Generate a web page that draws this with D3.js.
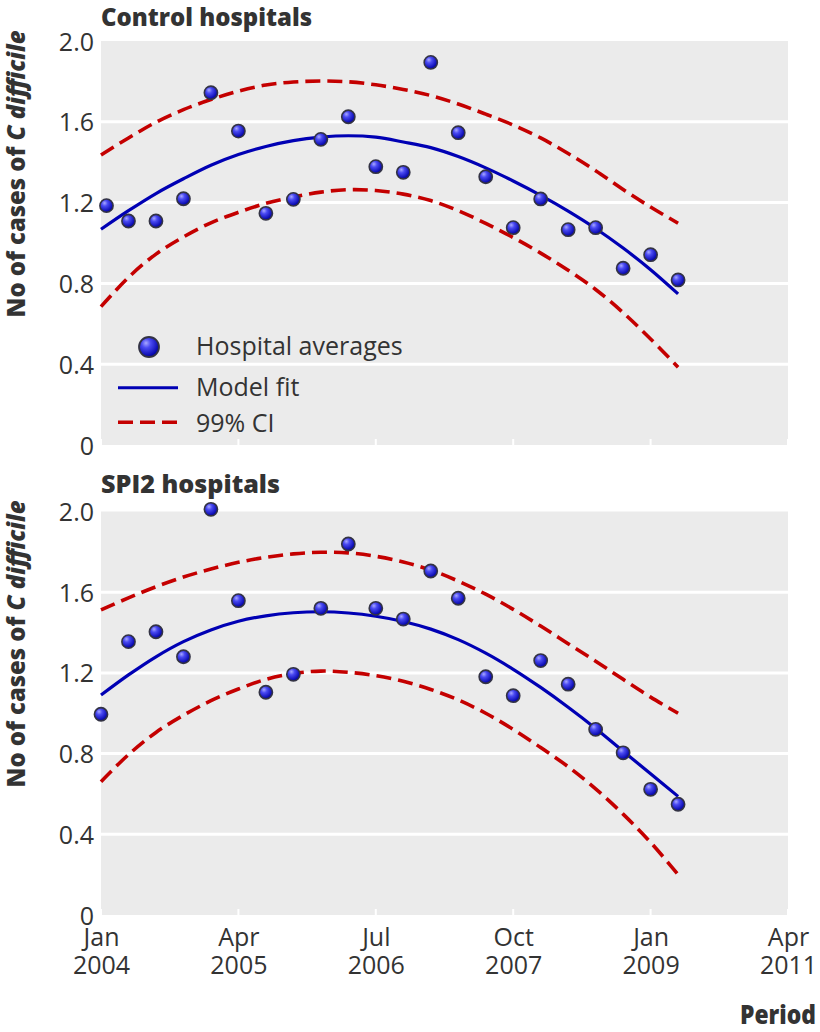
<!DOCTYPE html>
<html>
<head>
<meta charset="utf-8">
<script src="https://cdn.jsdelivr.net/npm/d3@7"></script>
<style>
  body { margin: 0; background: #fff; }
  svg { display: block; }
  text { font-family: "Open Sans", "Noto Sans", sans-serif; fill: #333; }
</style>
</head>
<body>
<svg id="chart" width="820" height="1032"></svg>
<script>
// ---------- data ----------
const xTickValues = [0, 5, 10, 15, 20, 25];
const xTickMonths = ["Jan", "Apr", "Jul", "Oct", "Jan", "Apr"];
const xTickYears  = ["2004", "2005", "2006", "2007", "2009", "2011"];
const yTickValues = [0, 0.4, 0.8, 1.2, 1.6, 2.0];

const quarterIndex = [0,1,2,3,4,5,6,7,8,9,10,11,12,13,14,15,16,17,18,19,20,21];

const controlPointIndex = [0.2,1,2,3,4,5,6,7,8,9,10,11,12,13,14,15,16,17,18,19,20,21];
const controlAverages = [1.185,1.109,1.109,1.219,1.744,1.554,1.147,1.216,1.513,1.625,1.378,1.350,
                         1.894,1.546,1.328,1.076,1.218,1.066,1.076,0.875,0.942,0.817];
const controlFit   = [1.068,1.160,1.245,1.318,1.385,1.438,1.478,1.507,1.524,1.531,1.524,1.500,
                      1.472,1.428,1.372,1.307,1.236,1.158,1.072,0.975,0.868,0.748];
const controlUpper = [1.436,1.520,1.598,1.660,1.710,1.752,1.782,1.797,1.802,1.798,1.783,1.760,
                      1.730,1.688,1.638,1.584,1.520,1.443,1.358,1.265,1.178,1.098];
const controlLower = [0.685,0.830,0.945,1.030,1.100,1.152,1.196,1.228,1.252,1.264,1.260,1.242,
                      1.210,1.160,1.097,1.027,0.950,0.865,0.770,0.655,0.525,0.385];

const spi2PointIndex = [0,1,2,3,4,5,6,7,8,9,10,11,12,13,14,15,16,17,18,19,20,21];
const spi2Averages = [0.995,1.355,1.404,1.280,2.011,1.558,1.104,1.193,1.520,1.839,1.520,1.467,
                      1.705,1.570,1.181,1.087,1.261,1.144,0.920,0.804,0.623,0.549];
const spi2Fit   = [1.090,1.190,1.280,1.355,1.413,1.456,1.483,1.498,1.503,1.497,1.481,1.455,
                   1.417,1.365,1.298,1.218,1.128,1.030,0.925,0.812,0.700,0.588];
const spi2Upper = [1.512,1.572,1.627,1.675,1.715,1.748,1.773,1.790,1.798,1.795,1.778,1.750,
                   1.710,1.655,1.590,1.515,1.432,1.345,1.258,1.168,1.080,1.000];
const spi2Lower = [0.661,0.795,0.905,0.990,1.062,1.120,1.168,1.197,1.209,1.203,1.186,1.158,
                   1.118,1.066,1.000,0.920,0.830,0.735,0.625,0.500,0.360,0.200];

const legendLabels = ["Hospital averages", "Model fit", "99% CI"];

// ---------- layout ----------
const svg = d3.select("#chart");
const xLeft = 101, xRight = 788;
const x = d3.scaleLinear().domain([0, 25]).range([xLeft, xRight]);

const BLUE = "#0000b4", RED = "#c40000", BG = "#ebebeb";

// gradient for points
const defs = svg.append("defs");
const grad = defs.append("radialGradient").attr("id", "ball")
  .attr("cx", "38%").attr("cy", "35%").attr("r", "65%").attr("fx", "35%").attr("fy", "30%");
grad.append("stop").attr("offset", "0%").attr("stop-color", "#a8a8ff");
grad.append("stop").attr("offset", "35%").attr("stop-color", "#4a4af2");
grad.append("stop").attr("offset", "100%").attr("stop-color", "#0000a6");

const panels = [
  { title: "Control hospitals", titleLen: 211, titleY: 26, y0: 445, y1: 41,
    pIdx: controlPointIndex, avg: controlAverages, fit: controlFit, up: controlUpper, lo: controlLower,
    ylabCenter: 174, legend: true, xlabels: false },
  { title: "SPI2 hospitals", titleLen: 179, titleY: 493, y0: 915, y1: 511.5,
    pIdx: spi2PointIndex, avg: spi2Averages, fit: spi2Fit, up: spi2Upper, lo: spi2Lower,
    ylabCenter: 644, legend: false, xlabels: true }
];

panels.forEach(p => {
  const y = d3.scaleLinear().domain([0, 2]).range([p.y0, p.y1]);
  const g = svg.append("g");

  // background
  g.append("rect").attr("x", xLeft).attr("y", p.y1)
    .attr("width", xRight - xLeft).attr("height", p.y0 - p.y1).attr("fill", BG);

  // horizontal gridlines
  g.selectAll(".grid").data(yTickValues.filter(v => v > 0 && v < 2)).join("line")
    .attr("x1", xLeft).attr("x2", xRight)
    .attr("y1", d => y(d)).attr("y2", d => y(d))
    .attr("stroke", "#fff").attr("stroke-width", 3);

  // small white x ticks inside the panel
  g.selectAll(".xt").data(xTickValues).join("line")
    .attr("x1", d => x(d)).attr("x2", d => x(d))
    .attr("y1", p.y0 - 6).attr("y2", p.y0)
    .attr("stroke", "#fff").attr("stroke-width", 2);

  // y axis
  const yAxis = d3.axisLeft(y).tickValues(yTickValues).tickSize(0).tickPadding(7)
    .tickFormat(d => d === 0 ? "0" : d3.format(".1f")(d));
  const ya = g.append("g").attr("transform", `translate(${xLeft},0)`).call(yAxis);
  ya.select(".domain").remove();
  ya.selectAll("text").attr("font-size", 25).attr("fill", "#333")
    .attr("font-family", '"Open Sans", sans-serif').attr("dy", "0.36em");

  // x axis labels (bottom panel only)
  if (p.xlabels) {
    const xAxis = d3.axisBottom(x).tickValues(xTickValues).tickSize(0).tickFormat("");
    const xa = g.append("g").attr("transform", `translate(0,${p.y0})`).call(xAxis);
    xa.select(".domain").remove();
    xa.selectAll(".tick").each(function(d, i) {
      const t = d3.select(this).append("text").attr("text-anchor", "middle")
        .attr("font-size", 25).attr("fill", "#333")
        .attr("font-family", '"Open Sans", sans-serif');
      t.append("tspan").attr("x", 0).attr("y", 31).text(xTickMonths[i]);
      t.append("tspan").attr("x", 0).attr("y", 59).text(xTickYears[i]);
    });
  }

  // lines
  const line = d3.line().x((d, i) => x(quarterIndex[i])).y(d => y(d)).curve(d3.curveCatmullRom.alpha(0.5));
  [p.up, p.lo].forEach(arr => {
    g.append("path").attr("d", line(arr)).attr("fill", "none")
      .attr("stroke", RED).attr("stroke-width", 3.6).attr("stroke-dasharray", "15,7");
  });
  g.append("path").attr("d", line(p.fit)).attr("fill", "none")
    .attr("stroke", BLUE).attr("stroke-width", 3.2);

  // points
  g.selectAll(".pt").data(p.avg).join("circle")
    .attr("cx", (d, i) => x(p.pIdx[i])).attr("cy", d => y(d)).attr("r", 6.6)
    .attr("fill", "url(#ball)").attr("stroke", "#333344").attr("stroke-width", 1.6);

  // panel title
  svg.append("text").attr("x", xLeft).attr("y", p.titleY)
    .attr("font-size", 24.5).attr("font-weight", 800)
    .attr("textLength", p.titleLen).attr("lengthAdjust", "spacingAndGlyphs")
    .text(p.title);

  // y axis title
  const yl = svg.append("text")
    .attr("transform", `translate(25,${p.ylabCenter}) rotate(-90)`)
    .attr("text-anchor", "middle").attr("font-size", 24).attr("font-weight", 800)
    .attr("textLength", 287).attr("lengthAdjust", "spacingAndGlyphs");
  yl.append("tspan").text("No of cases of ");
  yl.append("tspan").attr("font-style", "italic").text("C difficile");

  // legend
  if (p.legend) {
    const lg = svg.append("g");
    lg.append("circle").attr("cx", 149).attr("cy", 347).attr("r", 10)
      .attr("fill", "url(#ball)").attr("stroke", "#333344").attr("stroke-width", 1.8);
    lg.append("line").attr("x1", 118).attr("x2", 178).attr("y1", 387.7).attr("y2", 387.7)
      .attr("stroke", BLUE).attr("stroke-width", 3);
    lg.append("line").attr("x1", 118).attr("x2", 178).attr("y1", 422.3).attr("y2", 422.3)
      .attr("stroke", RED).attr("stroke-width", 3.6).attr("stroke-dasharray", "15,7");
    const ly = [355, 396, 431.7];
    lg.selectAll(".lt").data(legendLabels).join("text")
      .attr("x", 196).attr("y", (d, i) => ly[i]).attr("font-size", 25).text(d => d);
  }
});

// x axis title
svg.append("text").attr("x", 816).attr("y", 1024).attr("text-anchor", "end")
  .attr("font-size", 26).attr("font-weight", 800)
  .attr("textLength", 76).attr("lengthAdjust", "spacingAndGlyphs")
  .text("Period");
</script>
</body>
</html>
